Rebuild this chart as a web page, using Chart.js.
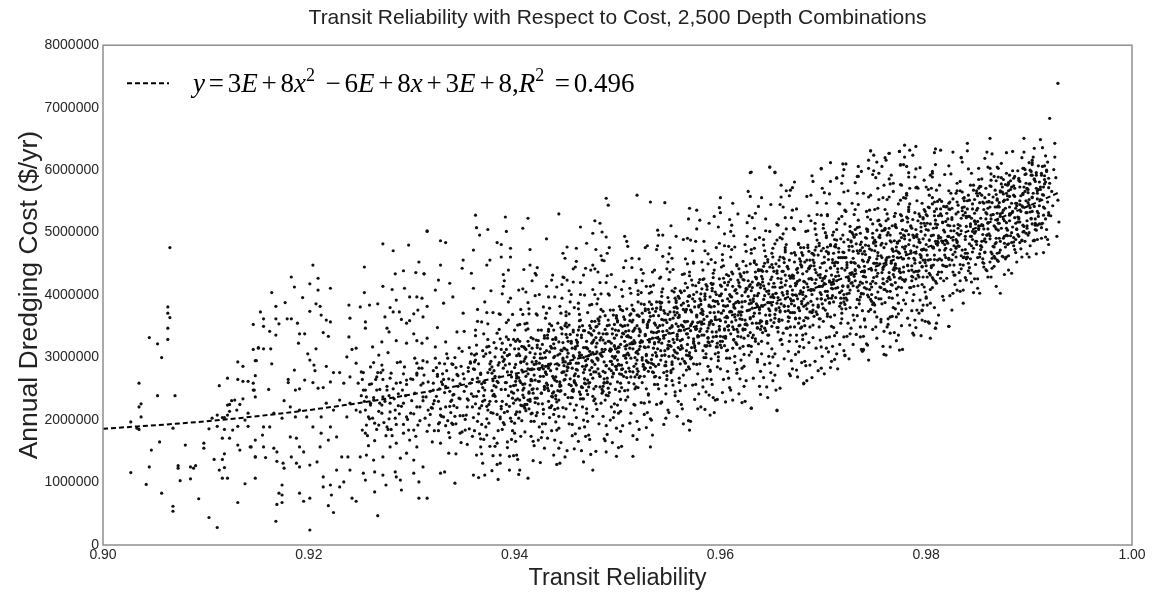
<!DOCTYPE html>
<html>
<head>
<meta charset="utf-8">
<script src="https://cdn.jsdelivr.net/npm/chart.js@4/dist/chart.umd.min.js"></script>
<style>
  html, body { margin: 0; padding: 0; background: #ffffff; }
  #wrap { width: 1154px; height: 598px; }
</style>
</head>
<body>
<div id="wrap"><canvas id="chart" width="1154" height="598"></canvas></div>
<script>
// Axis ticks
const reliabilityTicks = [0.90, 0.92, 0.94, 0.96, 0.98, 1.00];
const costTicks = [0, 1000000, 2000000, 3000000, 4000000, 5000000, 6000000, 7000000, 8000000];

// Quadratic fit, sampled along the fitted curve
const trendReliability = [0.900, 0.910, 0.920, 0.930, 0.940, 0.950, 0.960, 0.970, 0.980, 0.990, 0.993];
const trendCost = [1860000, 1980000, 2160000, 2410000, 2740000, 3150000, 3620000, 4160000, 4760000, 5430000, 5650000];

// Fit equation shown in the legend: [text, style]  (i = italic, o = operator, s = superscript, r = roman)
const fitLabel = [
  ['y','i'], ['=','o'], ['3','r'], ['E','i'], ['+','o'], ['8','r'], ['x','i'], ['2','s'],
  [' ','r'], ['\u2212','o'], ['6','r'], ['E','i'], ['+','o'], ['8','r'], ['x','i'], ['+','o'],
  ['3','r'], ['E','i'], ['+','o'], ['8','r'], [',','r'], ['R','i'], ['2','s'], [' ','r'],
  ['=','o'], ['0.496','r']
];

// Depth combinations. Each array holds pairs:
// (reliability - 0.90) in units of 0.0001, then annual cost in units of $10,000.
const westTail = [
  65,476, 63,381, 63,371, 65,364, 63,347, 63,329, 45,332, 53,322, 57,300, 35,259, 53,239, 70,239, 37,226, 35,221,
  37,205, 27,197, 33,187, 35,185, 68,187, 55,165, 47,152, 27,116, 45,125, 42,97, 57,83, 68,62, 68,54, 73,127,
  73,123, 75,103, 80,160, 85,125, 88,123, 90,127, 85,106, 93,74, 98,163, 98,155, 103,44, 111,28, 108,137, 116,137,
  113,120, 118,124, 116,107, 121,107, 118,146, 116,171, 123,171, 118,185, 111,190, 103,186, 106,203, 111,208,
  116,204, 118,204, 121,208, 123,214, 123,225, 121,224, 125,231, 128,232, 130,216, 133,225, 136,234, 131,190,
  126,184, 113,255, 121,267, 131,265, 136,262, 141,262, 131,293, 136,286, 146,353, 146,313, 151,316, 148,295,
  148,271, 146,248, 148,237, 141,211, 138,200, 141,190, 148,168, 143,157, 131,160, 133,152, 148,141, 148,107,
  138,98, 131,68
];

const westCloud = [
  315,502, 272,482, 282,471, 297,480, 307,453, 204,448, 254,445, 183,429, 209,427, 186,413, 201,418, 209,408,
  221,411, 284,434, 292,439, 304,436, 312,434, 254,404, 272,414, 281,409, 293,411, 285,392, 298,397, 305,397,
  310,395, 164,404, 194,396, 177,388, 168,382, 207,386, 211,382, 239,384, 250,381, 259,384, 267,386, 153,373,
  156,362, 168,362, 179,362, 183,362, 201,374, 212,368, 217,360, 221,357, 189,355, 156,350, 171,354, 162,342,
  168,336, 191,338, 196,338, 214,340, 219,334, 240,363, 255,357, 255,347, 274,365, 279,380, 282,373, 288,373,
  290,361, 295,355, 298,359, 302,370, 306,376, 311,365, 315,382, 276,347, 278,341, 285,327, 295,323, 302,338,
  305,327, 310,323, 315,331, 190,323, 151,315, 156,314, 163,314, 149,295, 164,290, 199,306, 207,314, 201,296,
  205,288, 206,279, 239,333, 242,313, 246,315, 237,301, 246,291, 262,317, 271,325, 268,304, 277,308, 289,293,
  305,291, 315,293, 217,286, 224,276, 230,276, 186,280, 180,265, 180,260, 187,248, 191,250, 146,259, 147,248,
  161,249, 196,264, 204,260, 209,251, 214,252, 221,261, 234,259, 240,269, 248,259, 251,277, 260,285, 266,269,
  272,280, 279,267, 285,259, 295,264, 305,275, 311,259, 253,248, 256,237, 260,227, 255,216, 263,232, 266,248,
  269,227, 272,237, 276,248, 279,227, 258,205, 264,195, 255,179, 271,211, 276,189, 284,216, 292,227, 295,205,
  305,221, 311,237, 316,216, 302,184, 292,179, 285,163, 279,157, 305,157, 240,227, 246,216, 237,205, 230,232,
  224,216, 217,227, 212,205, 221,189, 227,173, 219,168, 212,179, 204,189, 198,205, 191,216, 187,205, 182,221,
  176,231, 174,203, 166,211, 162,189, 156,189, 155,176, 144,157, 156,157, 166,155, 169,149, 148,141, 158,140,
  169,134, 175,131, 176,123, 182,173, 188,171, 191,157, 195,149, 188,131, 183,141, 191,125, 201,128, 208,133,
  211,157, 232,141, 238,141, 250,141, 256,144, 263,136, 272,141, 289,139, 295,147, 302,136, 311,125, 227,120,
  240,120, 253,115, 255,104, 264,117, 272,112, 284,117, 285,109, 289,104, 302,115, 307,101, 214,109, 221,96,
  214,93, 234,101, 230,93, 242,75, 246,70, 264,85, 275,96, 290,88, 307,75, 315,75, 174,96, 174,80, 171,83,
  169,65, 174,68, 191,83, 195,70, 201,75, 222,80, 219,63, 224,52, 168,38, 201,24, 267,47
];

// Where the band thickens, just ahead of the main core
const bandEntry = [
  254,230, 259,202, 252,265, 257,175, 250,213, 255,248, 258,159, 253,276, 256,192, 251,239, 259,257, 252,184,
  263,236, 268,214, 261,258, 266,185, 269,249, 264,167, 260,224, 267,276, 262,203, 265,265, 268,192, 263,292,
  271,224, 276,254, 273,196, 278,239, 270,276, 275,175, 279,213, 272,265, 277,185, 274,230, 271,288, 278,202,
  287,223, 282,250, 285,193, 280,275, 288,210, 283,234, 286,292, 281,175, 289,260, 284,203, 287,242, 280,185,
  294,239, 299,211, 292,274, 297,184, 290,222, 295,257, 298,168, 293,285, 296,201, 291,248, 299,266, 292,193,
  303,243, 308,221, 301,265, 306,192, 309,256, 304,174, 300,231, 307,283, 302,210, 305,272, 308,199, 303,299,
  311,231, 316,261, 313,203, 318,246, 310,283, 315,182, 319,220, 312,272, 317,192, 314,237, 311,295, 318,209
];

const upperFringe = [
  362,528, 391,525, 413,523, 443,530, 489,555, 491,544, 315,503, 328,487, 333,484, 374,505, 363,508, 366,496,
  392,502, 408,507, 431,490, 464,509, 478,519, 483,515, 485,501, 476,499, 383,484, 387,481, 396,475, 415,473,
  451,477, 460,475, 470,483, 489,493, 360,472, 350,456, 376,456, 387,461, 396,461, 349,443, 373,448, 358,435,
  394,440, 415,448, 421,432, 436,424, 447,429, 441,413, 457,421, 467,432, 476,448, 485,456, 312,434, 328,448,
  326,424, 337,419, 323,408, 340,397, 331,387,
  328,115, 342,99, 360,112, 371,112, 386,131, 405,120, 413,107, 449,141, 467,133, 476,120, 489,149,
  630,597, 648,605, 653,597, 519,560, 532,549, 546,548, 570,539, 600,556, 668,568, 499,142, 515,142, 532,157,
  570,184, 590,208, 630,219, 655,216, 612,232, 595,232,
  834,620, 746,631, 774,630, 764,627, 698,603, 713,588, 734,590, 775,609, 681,259, 721,304, 739,312, 822,350, 809,347
];

const eastFringe = [
  928,739, 920,683, 925,643, 913,636, 905,635, 895,629, 900,612, 915,607, 840,643, 862,651, 857,619, 834,620,
  822,607, 806,598, 774,630, 764,627, 746,631, 744,616, 752,613, 761,616, 775,608, 744,603, 733,590, 713,587,
  698,602, 648,605, 653,596, 629,596, 783,596, 790,572, 781,560, 768,579, 765,578, 759,576, 806,589, 800,573,
  830,579, 844,595, 852,574, 860,605, 869,605, 870,589, 878,595, 885,587, 894,603, 903,592, 907,592, 912,592,
  916,581, 914,573, 908,563, 903,557, 898,571, 894,563, 891,573, 886,571, 878,563, 872,565, 869,552, 859,549,
  862,541, 869,531, 875,536, 881,541, 888,547, 894,541, 901,533, 906,512, 898,507, 893,488, 885,485, 905,488,
  878,496, 870,504, 875,461, 880,440, 862,453, 863,429, 850,411, 852,461, 854,477, 839,424, 836,408, 826,403,
  822,350, 809,347, 810,355, 796,360, 796,376, 784,352, 777,313, 762,349, 751,349, 739,313, 721,303, 707,284,
  698,283, 681,258, 655,215, 646,236, 630,219, 658,251, 674,280, 687,288, 703,315, 720,333, 736,333, 752,365,
  765,365, 776,376, 791,376, 804,387, 817,392, 830,408, 843,435, 856,445, 869,467
];

const coreWest = [
  322,231, 325,270, 328,208, 321,248, 327,291, 320,219, 326,183, 329,261, 323,317, 324,238, 328,163, 321,279, 325,348, 327,196,
  333,221, 336,266, 339,195, 332,244, 335,299, 338,230, 331,205, 334,279, 337,172, 330,257, 333,325, 336,147, 339,290, 332,117,
  344,220, 347,258, 340,193, 343,284, 346,235, 349,310, 342,206, 345,271, 348,164, 341,241, 344,341, 347,179, 340,289, 343,146,
  351,266, 354,234, 357,293, 350,207, 353,254, 356,316, 359,221, 352,184, 355,278, 358,242, 351,342, 354,161, 357,259, 350,371,
  365,261, 368,223, 361,293, 364,198, 367,273, 360,238, 363,306, 366,178, 369,252, 362,335, 365,210, 368,146, 361,281, 364,358,
  370,261, 373,222, 376,290, 379,239, 372,306, 375,195, 378,275, 371,248, 374,329, 377,212, 370,169, 373,317, 376,230, 379,372,
  382,253, 385,292, 388,230, 381,270, 387,313, 380,241, 386,205, 389,283, 383,339, 384,260, 388,185, 381,301, 385,370, 387,218, 383,163, 389,414, 380,324, 386,144,
  394,239, 397,277, 390,212, 393,303, 396,254, 399,329, 392,225, 395,290, 398,183, 391,260, 394,360, 397,198, 390,308, 393,165, 396,395, 399,243, 392,333, 395,142,
  403,248, 406,293, 409,222, 402,271, 405,326, 408,257, 401,232, 404,306, 407,199, 400,284, 403,352, 406,174, 409,317, 402,144, 405,263, 408,369, 401,209, 404,408,
  415,281, 418,243, 411,313, 414,218, 417,293, 410,258, 413,326, 416,198, 419,272, 412,355, 415,230, 418,166, 411,301, 414,378, 417,211, 410,181, 413,346, 416,263,
  421,294, 424,262, 427,321, 420,235, 423,282, 426,344, 429,249, 422,212, 425,306, 428,270, 421,370, 424,189, 427,287, 420,399, 423,226, 426,172, 429,331, 422,444,
  430,286, 433,247, 436,315, 439,264, 432,331, 435,220, 438,300, 431,273, 434,354, 437,237, 430,194, 433,342, 436,255, 439,397, 432,171, 435,279, 438,209, 431,371,
  444,261, 447,299, 440,234, 443,325, 446,276, 449,351, 442,247, 445,312, 448,205, 441,282, 444,382, 447,220, 440,330, 443,187, 446,417, 449,265, 442,355, 445,164, 448,287, 441,129, 447,467, 444,254,
  452,284, 455,323, 458,261, 451,301, 457,344, 450,272, 456,236, 459,314, 453,370, 454,291, 458,216, 451,332, 455,401, 457,249, 453,194, 459,445, 450,355, 456,175, 452,307, 454,266, 458,380, 451,151,
  465,304, 468,266, 461,336, 464,241, 467,316, 460,281, 463,349, 466,221, 469,295, 462,378, 465,253, 468,189, 461,324, 464,401, 467,234, 460,204, 463,369, 466,286, 469,443, 462,166, 468,343, 460,256,
  473,280, 476,325, 479,254, 472,303, 475,358, 478,289, 471,264, 474,338, 477,231, 470,316, 473,384, 476,206, 479,349, 472,176, 475,295, 478,401, 471,241, 474,440, 477,328, 470,218, 479,150, 476,308,
  480,309, 483,270, 486,338, 489,287, 482,354, 485,243, 488,323, 481,296, 484,377, 487,260, 480,217, 483,365, 486,278, 489,420, 482,194, 485,302, 488,232, 481,394, 484,463, 487,170, 483,328, 486,254,
  491,326, 494,294, 497,353, 490,267, 493,314, 496,376, 499,281, 492,244, 495,338, 498,302, 491,402, 494,221, 497,319, 490,431, 493,258, 496,204, 499,363, 492,476, 495,289, 498,344, 490,177, 496,274
];

const coreMid = [
  504,288, 507,326, 500,261, 503,352, 506,303, 509,378, 502,274, 505,339, 508,232, 501,309, 504,409, 507,247, 500,357, 503,214, 506,444, 509,292, 502,382, 505,191, 508,314, 501,156, 507,494, 504,281,
  513,299, 516,344, 519,273, 512,322, 515,377, 518,308, 511,283, 514,357, 517,250, 510,335, 513,403, 516,225, 519,368, 512,195, 515,314, 518,420, 511,260, 514,459, 517,347, 510,237, 519,169, 516,327,
  522,318, 525,357, 528,295, 521,335, 527,378, 520,306, 526,270, 529,348, 523,404, 524,325, 528,250, 521,366, 525,435, 527,283, 523,228, 529,479, 520,389, 526,209, 522,341, 524,300, 528,414, 521,185,
  535,340, 538,302, 531,372, 534,277, 537,352, 530,317, 533,385, 536,257, 539,331, 532,414, 535,289, 538,225, 531,360, 534,437, 537,270, 530,240, 533,405, 536,322, 539,479, 532,202, 538,379, 530,292,
  540,342, 543,303, 546,371, 549,320, 542,387, 545,276, 548,356, 541,329, 544,410, 547,293, 540,250, 543,398, 546,311, 549,453, 542,227, 545,335, 548,265, 541,427, 544,496, 547,203, 543,361, 546,287,
  551,361, 554,329, 557,388, 550,302, 553,349, 556,411, 559,316, 552,279, 555,373, 558,337, 551,437, 554,256, 557,354, 550,466, 553,293, 556,239, 559,398, 552,511, 555,324, 558,379, 550,212, 556,309,
  563,329, 566,374, 569,303, 562,352, 565,407, 568,338, 561,313, 564,387, 567,280, 560,365, 563,433, 566,255, 569,398, 562,225, 565,344, 568,450, 561,290, 564,489, 567,377, 560,267, 569,199, 566,357,
  574,330, 577,368, 570,303, 573,394, 576,345, 579,420, 572,316, 575,381, 578,274, 571,351, 574,451, 577,289, 570,399, 573,256, 576,486, 579,334, 572,424, 575,233, 578,356, 571,198, 577,536, 574,323,
  582,354, 585,393, 588,331, 581,371, 587,414, 580,342, 586,306, 589,384, 583,440, 584,361, 588,286, 581,402, 585,471, 587,319, 583,264, 589,515, 580,425, 586,245, 582,377, 584,336, 588,450, 581,221,
  590,372, 593,333, 596,401, 599,350, 592,417, 595,306, 598,386, 591,359, 594,440, 597,323, 590,280, 593,428, 596,341, 599,483, 592,257, 595,365, 598,295, 591,457, 594,526, 597,233, 593,391, 596,317,
  605,382, 608,344, 601,414, 604,319, 607,394, 600,359, 603,427, 606,299, 609,373, 602,456, 605,331, 608,267, 601,402, 604,479, 607,312, 600,282, 603,447, 606,364, 609,521, 602,244, 608,421, 600,334,
  611,397, 614,365, 617,424, 610,338, 613,385, 616,447, 619,352, 612,315, 615,409, 618,373, 611,473, 614,292, 617,390, 610,502, 613,329, 616,275, 619,434, 612,547, 615,360, 618,415, 610,248, 616,345,
  624,360, 627,398, 620,333, 623,424, 626,375, 629,450, 622,346, 625,411, 628,304, 621,381, 624,481, 627,319, 620,429, 623,286, 626,516, 629,364, 622,454, 625,263, 628,386, 621,228, 627,566, 624,353,
  633,371, 636,416, 639,345, 632,394, 635,449, 638,380, 631,355, 634,429, 637,322, 630,407, 633,475, 636,297, 639,440, 632,267, 635,386, 638,492, 631,332, 634,531, 637,419, 630,309, 639,241, 636,399,
  645,406, 648,368, 641,438, 644,343, 647,418, 640,383, 643,451, 646,323, 649,397, 642,480, 645,355, 648,291, 641,426, 644,503, 647,336, 640,306, 643,471, 646,388, 649,545, 642,268, 648,445, 640,358,
  652,396, 655,435, 658,373, 651,413, 657,456, 650,384, 656,348, 659,426, 653,482, 654,403, 658,328, 651,444, 655,513, 657,361, 653,306, 659,557, 650,467, 656,287, 652,419, 654,378, 658,492, 651,263,
  660,413, 663,374, 666,442, 669,391, 662,458, 665,347, 668,427, 661,400, 664,481, 667,364, 660,321, 663,469, 666,382, 669,524, 662,298, 665,406, 668,336, 661,498, 664,567, 667,274, 663,432, 666,358,
  671,431, 674,399, 677,458, 670,372, 673,419, 676,481, 679,386, 672,349, 675,443, 678,407, 671,507, 674,326, 677,424, 670,536, 673,363, 676,309, 679,468, 672,581, 675,394, 678,449, 670,282, 676,379,
  683,398, 686,443, 689,372, 682,421, 685,476, 688,407, 681,382, 684,456, 687,349, 680,434, 683,502, 686,324, 689,467, 682,294, 685,413, 688,519, 681,359, 684,558, 687,446, 680,336, 689,268, 686,426,
  695,432, 698,394, 691,464, 694,369, 697,444, 690,409, 693,477, 696,349, 699,423, 692,506, 695,381, 698,317, 691,452, 694,529, 697,362, 690,332, 693,497, 696,414, 699,571, 692,294, 698,471, 690,384
];

const coreEast = [
  704,406, 707,444, 700,379, 703,470, 706,421, 709,496, 702,392, 705,457, 708,350, 701,427, 704,527, 707,365, 700,475, 703,332, 706,562, 709,410, 702,500, 705,309, 708,432, 701,274, 707,612, 704,399,
  712,430, 715,469, 718,407, 711,447, 717,490, 710,418, 716,382, 719,460, 713,516, 714,437, 718,362, 711,478, 715,547, 717,395, 713,340, 719,591, 710,501, 716,321, 712,453, 714,412, 718,526, 711,297,
  721,460, 724,428, 727,487, 720,401, 723,448, 726,510, 729,415, 722,378, 725,472, 728,436, 721,536, 724,355, 727,453, 720,565, 723,392, 726,338, 729,497, 722,610, 725,423, 728,478, 720,311, 726,408,
  730,452, 733,413, 736,481, 739,430, 732,497, 735,386, 738,466, 731,439, 734,520, 737,403, 730,360, 733,508, 736,421, 739,563, 732,337, 735,445, 738,375, 731,537, 734,606, 737,313, 733,471, 736,397,
  745,460, 748,422, 741,492, 744,397, 747,472, 740,437, 743,505, 746,377, 749,451, 742,534, 745,409, 748,345, 741,480, 744,557, 747,390, 740,360, 743,525, 746,442, 749,599, 742,322, 748,499, 740,412,
  753,435, 756,480, 759,409, 752,458, 755,513, 758,444, 751,419, 754,493, 757,386, 750,471, 753,539, 756,361, 759,504, 752,331, 755,450, 758,556, 751,396, 754,595, 757,483, 750,373, 759,305, 756,463,
  764,436, 767,474, 760,409, 763,500, 766,451, 769,526, 762,422, 765,487, 768,380, 761,457, 764,557, 767,395, 760,505, 763,362, 766,592, 769,440, 762,530, 765,339, 768,462, 761,304, 764,429,
  772,460, 775,499, 778,437, 771,477, 777,520, 770,448, 776,412, 779,490, 773,546, 774,467, 778,392, 771,508, 775,577, 777,425, 773,370, 779,621, 770,531, 776,351, 772,483, 774,442, 778,556, 771,327,
  780,478, 783,439, 786,507, 789,456, 782,523, 785,412, 788,492, 781,465, 784,546, 787,429, 780,386, 783,534, 786,447, 789,589, 782,363, 785,471, 788,401, 781,563, 784,632, 787,339, 783,497, 786,423,
  791,497, 794,465, 797,524, 790,438, 793,485, 796,547, 799,452, 792,415, 795,509, 798,473, 791,573, 794,392, 797,490, 790,602, 793,429, 796,375, 799,534, 795,460, 798,515, 790,348, 796,445,
  805,495, 808,457, 801,527, 804,432, 807,507, 800,472, 803,540, 806,412, 809,486, 802,569, 805,444, 808,380, 801,515, 804,592, 807,425, 800,395, 803,560, 806,477, 809,634, 802,357, 808,534, 800,447,
  813,472, 816,517, 819,446, 812,495, 815,550, 818,481, 811,456, 814,530, 817,423, 810,508, 813,576, 816,398, 819,541, 812,368, 815,487, 818,593, 811,433, 814,632,
  824,473, 827,511, 820,446, 823,537, 826,488, 829,563, 822,459, 825,524, 828,417, 821,494, 824,594, 827,432, 820,542, 823,399, 826,629, 829,477, 822,567, 825,376,
  832,496, 835,535, 838,473, 831,513, 837,556, 830,484, 836,448, 839,526, 833,582, 834,503, 838,428, 831,544, 835,613, 837,461, 833,406, 830,567, 836,387,
  841,526, 844,494, 847,553, 840,467, 843,514, 846,576, 849,481, 842,444, 845,538, 848,502, 841,602, 844,421, 847,519, 840,631, 843,458, 846,404, 849,563, 845,489,
  850,518, 853,479, 856,547, 859,496, 852,563, 855,452, 858,532, 851,505, 854,586, 857,469, 850,426, 853,574, 856,487, 859,629, 852,403, 855,511, 858,441, 851,603,
  865,529, 868,491, 861,561, 864,466, 867,541, 860,506, 863,574, 866,446, 869,520, 862,603, 865,478, 868,414, 861,549, 864,626, 867,459, 860,429, 863,594, 866,511,
  873,507, 876,552, 879,481, 872,530, 875,585, 878,516, 871,491, 874,565, 877,458, 870,543, 873,611, 876,433, 879,576, 872,403, 875,522, 878,628, 871,468,
  884,509, 887,547, 880,482, 883,573, 886,524, 889,599, 882,495, 885,560, 888,453, 881,530, 884,630, 887,468, 880,578, 883,435,
  892,534, 895,573, 898,511, 891,551, 897,594, 890,522, 896,486, 899,564, 893,620, 894,541, 898,466, 891,582, 895,651, 897,499,
  900,553, 903,514, 906,582, 909,531, 902,598, 905,487, 908,567, 901,540, 904,621, 907,504, 900,461, 903,609, 906,522,
  911,573, 914,541, 917,600, 910,514, 913,561, 916,623, 919,528, 912,491, 915,585, 918,549, 911,649, 914,468,
  923,543, 926,588, 929,517, 922,566, 925,621, 928,552, 921,527, 924,601, 927,494, 920,579
];

// Second, tighter layer through the densest part of the band
const coreFill = [
  326,230, 321,259, 329,206, 324,284, 322,183, 327,250, 320,165, 325,273, 328,218, 323,299, 326,194, 321,226,
  333,254, 337,222, 330,274, 335,199, 339,232, 332,290, 336,180, 331,265, 338,212, 334,306, 333,191, 337,246,
  340,240, 344,273, 347,207, 342,300, 349,181, 345,254, 341,223, 348,286, 343,194, 346,315, 340,264, 347,234,
  355,232, 359,265, 353,208, 357,291, 351,246, 356,186, 350,274, 354,221, 358,306, 352,201, 355,284, 359,174,
  368,258, 362,226, 365,290, 360,204, 367,275, 363,238, 369,311, 361,183, 366,219, 364,267, 368,193, 362,296, 365,246, 360,282, 367,170, 363,320, 369,230, 361,304,
  371,260, 375,225, 378,285, 373,202, 376,308, 370,239, 374,276, 379,211, 372,189, 377,294, 371,232, 375,318, 378,247, 373,176, 376,281, 370,302, 374,216, 379,263,
  380,255, 384,288, 387,222, 382,315, 389,196, 385,269, 381,238, 388,301, 383,209, 386,330, 380,279, 387,249, 384,183, 389,294, 382,230, 386,202, 383,262, 388,323,
  393,277, 397,245, 390,297, 395,222, 399,255, 392,313, 396,203, 391,288, 398,235, 394,329, 393,214, 397,269, 390,193, 395,305, 399,227, 392,260, 396,320, 391,249,
  406,260, 401,289, 409,236, 404,314, 402,213, 407,280, 400,195, 405,303, 408,248, 403,329, 406,224, 401,256, 409,294, 404,203, 407,318, 402,267, 405,232, 400,344,
  415,256, 419,289, 413,232, 417,315, 411,270, 416,210, 410,298, 414,245, 418,330, 412,225, 415,308, 419,198, 413,282, 417,249, 411,344, 416,265, 410,219, 414,319,
  428,282, 422,250, 425,314, 420,228, 427,299, 423,262, 429,335, 421,207, 426,243, 424,291, 428,217, 422,320, 425,270, 420,306, 427,194, 423,344, 429,254, 421,328,
  430,276, 434,309, 437,243, 432,336, 439,217, 435,290, 431,259, 438,322, 433,230, 436,351, 430,300, 437,270, 434,204, 439,315, 432,251, 436,223, 433,283, 438,344,
  441,290, 445,255, 448,315, 443,232, 446,338, 440,269, 444,306, 449,241, 442,219, 447,324, 441,262, 445,348, 448,277, 443,206, 446,311, 440,332, 444,246, 449,293,
  456,283, 451,312, 459,259, 454,337, 452,236, 457,303, 450,218, 455,326, 458,271, 453,352, 456,247, 451,279, 459,317, 454,226, 457,341, 452,290, 455,255, 450,367,
  463,308, 467,276, 460,328, 465,253, 469,286, 462,344, 466,234, 461,319, 468,266, 464,360, 463,245, 467,300, 460,224, 465,336, 469,258, 462,291, 466,351, 461,280,
  475,284, 479,317, 473,260, 477,343, 471,298, 476,238, 470,326, 474,273, 478,358, 472,253, 475,336, 479,226, 473,310, 477,277, 471,372, 476,293, 470,247, 474,347,
  480,299, 484,332, 487,266, 482,359, 489,240, 485,313, 481,282, 488,345, 483,253, 486,374, 480,323, 487,293, 484,227, 489,338, 482,274, 486,246, 483,306, 488,367,
  498,314, 492,282, 495,346, 490,260, 497,331, 493,294, 499,367, 491,239, 496,275, 494,323, 498,249, 492,352, 495,302, 490,338, 497,226, 493,376, 499,286, 491,360,
  501,317, 505,282, 508,342, 503,259, 506,365, 500,296, 504,333, 509,268, 502,246, 507,351, 501,289, 505,375, 508,304, 503,233, 506,338, 500,359, 504,273, 509,320,
  513,332, 517,300, 510,352, 515,277, 519,310, 512,368, 516,258, 511,343, 518,290, 514,384, 513,269, 517,324, 510,248, 515,360, 519,282, 512,315, 516,375, 511,304,
  526,317, 521,346, 529,293, 524,371, 522,270, 527,337, 520,252, 525,360, 528,305, 523,386, 526,281, 521,313, 529,351, 524,260, 527,375, 522,324, 525,289, 520,401,
  535,315, 539,348, 533,291, 537,374, 531,329, 536,269, 530,357, 534,304, 538,389, 532,284, 535,367, 539,257, 533,341, 537,308, 531,403, 536,324, 530,278, 534,378,
  548,343, 542,311, 545,375, 540,289, 547,360, 543,323, 549,396, 541,268, 546,304, 544,352, 548,278, 542,381, 545,331, 540,367, 547,255, 543,405, 549,315, 541,389,
  551,347, 555,312, 558,372, 553,289, 556,395, 550,326, 554,363, 559,298, 552,276, 557,381, 551,319, 555,405, 558,334, 553,263, 556,368, 550,389, 554,303, 559,350,
  560,344, 564,377, 567,311, 562,404, 569,285, 565,358, 561,327, 568,390, 563,298, 566,419, 560,368, 567,338, 564,272, 569,383, 562,319, 566,291, 563,351, 568,412,
  576,347, 571,376, 579,323, 574,401, 572,300, 577,367, 570,282, 575,390, 578,335, 573,416, 576,311, 571,343, 579,381, 574,290, 577,405, 572,354, 575,319, 570,431,
  583,374, 587,342, 580,394, 585,319, 589,352, 582,410, 586,300, 581,385, 588,332, 584,426, 583,311, 587,366, 580,290, 585,402, 589,324, 582,357, 586,417, 581,346,
  598,373, 592,341, 595,405, 590,319, 597,390, 593,353, 599,426, 591,298, 596,334, 594,382, 598,308, 592,411, 595,361, 590,397, 597,285, 593,435, 599,345, 591,419,
  605,357, 609,390, 603,333, 607,416, 601,371, 606,311, 600,399, 604,346, 608,431, 602,326, 605,409, 609,299, 603,383, 607,350, 601,445, 606,366, 600,320, 604,420,
  610,374, 614,407, 617,341, 612,434, 619,315, 615,388, 611,357, 618,420, 613,328, 616,449, 610,398, 617,368, 614,302, 619,413, 612,349, 616,321, 613,381, 618,442,
  621,389, 625,354, 628,414, 623,331, 626,437, 620,368, 624,405, 629,340, 622,318, 627,423, 621,361, 625,447, 628,376, 623,305, 626,410, 620,431, 624,345, 629,392,
  636,383, 631,412, 639,359, 634,437, 632,336, 637,403, 630,318, 635,426, 638,371, 633,452, 636,347, 631,379, 639,417, 634,326, 637,441, 632,390, 635,355, 630,467,
  643,410, 647,378, 640,430, 645,355, 649,388, 642,446, 646,336, 641,421, 648,368, 644,462, 643,347, 647,402, 640,326, 645,438, 649,360, 642,393, 646,453, 641,382,
  655,387, 659,420, 653,363, 657,446, 651,401, 656,341, 650,429, 654,376, 658,461, 652,356, 655,439, 659,329, 653,413, 657,380, 651,475, 656,396, 650,350, 654,450,
  668,414, 662,382, 665,446, 660,360, 667,431, 663,394, 669,467, 661,339, 666,375, 664,423, 668,349, 662,452, 665,402, 660,438, 667,326, 663,476, 669,386, 661,460,
  670,408, 674,441, 677,375, 672,468, 679,349, 675,422, 671,391, 678,454, 673,362, 676,483, 670,432, 677,402, 674,336, 679,447, 672,383, 676,355, 673,415, 678,476,
  681,422, 685,387, 688,447, 683,364, 686,470, 680,401, 684,438, 689,373, 682,351, 687,456, 681,394, 685,480, 688,409, 683,338, 686,443, 680,464, 684,378, 689,425,
  693,436, 697,404, 690,456, 695,381, 699,414, 692,472, 696,362, 691,447, 698,394, 694,488, 693,373, 697,428, 690,352, 695,464, 699,386, 692,419, 696,479, 691,408,
  706,423, 701,452, 709,399, 704,477, 702,376, 707,443, 700,358, 705,466, 708,411, 703,492, 706,387, 701,419, 709,457, 704,366, 707,481, 702,430, 705,395, 700,507,
  718,443, 712,411, 715,475, 710,389, 717,460, 713,423, 719,496, 711,368, 716,404, 714,452, 718,378, 712,481, 715,431, 710,467, 717,355, 713,505, 719,415, 711,489,
  725,426, 729,459, 723,402, 727,485, 721,440, 726,380, 720,468, 724,415, 728,500, 722,395, 725,478, 729,368, 723,452, 727,419, 721,514, 726,435, 720,389, 724,489,
  731,451, 735,416, 738,476, 733,393, 736,499, 730,430, 734,467, 739,402, 732,380, 737,485, 731,423, 735,509, 738,438, 733,367, 736,472, 730,493, 734,407, 739,454,
  740,446, 744,479, 747,413, 742,506, 749,387, 745,460, 741,429, 748,492, 743,400, 746,521, 740,470, 747,440, 744,374, 749,485, 742,421, 746,393, 743,453, 748,514,
  753,468, 757,436, 750,488, 755,413, 759,446, 752,504, 756,394, 751,479, 758,426, 754,520, 753,405, 757,460, 750,384, 755,496, 759,418, 752,451, 756,511, 751,440,
  766,453, 761,482, 769,429, 764,507, 762,406, 767,473, 760,388, 765,496, 768,441, 763,522, 766,417, 761,449, 769,487, 764,396, 767,511, 762,460, 765,425, 760,537,
  771,471, 775,436, 778,496, 773,413, 776,519, 770,450, 774,487, 779,422, 772,400, 777,505, 771,443, 775,529, 778,458, 773,387, 776,492, 770,513, 774,427, 779,474,
  788,479, 782,447, 785,511, 780,425, 787,496, 783,459, 789,532, 781,404, 786,440, 784,488, 788,414, 782,517, 785,467, 780,503, 787,391, 783,541, 789,451, 781,525,
  795,463, 799,496, 793,439, 797,522, 791,477, 796,417, 790,505, 794,452, 798,537, 792,432, 795,515, 799,405, 793,489, 797,456, 791,551, 796,472, 790,426, 794,526,
  800,481, 804,514, 807,448, 802,541, 809,422, 805,495, 801,464, 808,527, 803,435, 806,556, 800,505, 807,475, 804,409, 809,520, 802,456, 806,428, 803,488, 808,549,
  816,484, 811,513, 819,460, 814,538, 812,437, 817,504, 810,419, 815,527, 818,472, 813,553, 816,448, 811,480, 819,518, 814,427, 817,542, 812,491, 815,456, 810,568,
  823,511, 827,479, 820,531, 825,456, 829,489, 822,547, 826,437, 821,522, 828,469, 824,563, 823,448, 827,503, 820,427, 825,539, 829,461, 822,494, 826,554, 821,483,
  831,507, 835,472, 838,532, 833,449, 836,555, 830,486, 834,523, 839,458, 832,436, 837,541, 831,479, 835,565, 838,494, 833,423, 836,528, 830,549, 834,463, 839,510,
  848,514, 842,482, 845,546, 840,460, 847,531, 843,494, 849,567, 841,439, 846,475, 844,523, 848,449, 842,552, 845,502, 840,538, 847,426, 843,576, 849,486, 841,560,
  855,497, 859,530, 853,473, 857,556, 851,511, 856,451, 850,539, 854,486, 858,571, 852,466, 855,549, 859,439, 853,523, 857,490, 851,585, 856,506, 850,460, 854,560,
  860,515, 864,548, 867,482, 862,575, 869,456, 865,529, 861,498, 868,561, 863,469, 866,590, 860,539, 867,509, 864,443, 869,554, 862,490, 866,462, 863,522, 868,583,
  876,519, 871,548, 879,495, 874,573, 872,472, 877,539, 870,454, 875,562, 878,507, 873,588, 876,483, 871,515, 879,553, 874,462, 877,577, 872,526, 875,491, 870,603,
  883,547, 887,515, 880,567, 885,492, 889,525, 882,583, 886,473, 881,558, 888,505, 884,599, 883,484, 887,539, 880,463, 885,575, 889,497, 882,530, 886,590, 881,519,
  891,545, 895,510, 898,570, 893,487, 896,593, 890,524, 894,561, 899,496, 892,474, 897,579, 891,517, 895,603, 898,532, 893,461, 896,566, 890,587, 894,501, 899,548,
  908,554, 902,522, 905,586, 900,500, 907,571, 903,534, 909,607, 901,479, 906,515, 904,563, 908,489, 902,592, 905,542, 900,578, 907,466, 903,616, 909,526, 901,600,
  915,539, 919,572, 913,515, 917,598, 911,553, 916,493, 910,581, 914,528, 918,613, 912,508, 915,591, 919,481
];

// Third layer, close to the middle of the band
const coreDense = [
  401,262, 406,292, 403,234, 408,277, 400,314, 405,213, 409,251, 402,303, 407,223, 404,268, 401,326, 408,240,
  417,263, 412,290, 415,233, 410,315, 418,250, 413,274, 416,332, 411,215, 419,300, 414,243, 417,282, 410,225,
  424,281, 429,253, 422,316, 427,226, 420,264, 425,299, 428,210, 423,327, 426,243, 421,290, 429,308, 422,235,
  433,289, 438,267, 431,311, 436,238, 439,302, 434,220, 430,277, 437,329, 432,256, 435,318, 438,245, 433,345,
  447,277, 442,304, 445,247, 440,329, 448,264, 443,288, 446,346, 441,229, 449,314, 444,257, 447,296, 440,239,
  451,285, 456,315, 453,257, 458,300, 450,337, 455,236, 459,274, 452,326, 457,246, 454,291, 451,349, 458,263,
  463,303, 468,281, 461,325, 466,252, 469,316, 464,234, 460,291, 467,343, 462,270, 465,332, 468,259, 463,359,
  474,305, 479,277, 472,340, 477,250, 470,288, 475,323, 478,234, 473,351, 476,267, 471,314, 479,332, 472,259,
  481,298, 486,328, 483,270, 488,313, 480,350, 485,249, 489,287, 482,339, 487,259, 484,304, 481,362, 488,276,
  497,299, 492,326, 495,269, 490,351, 498,286, 493,310, 496,368, 491,251, 499,336, 494,279, 497,318, 490,261,
  503,321, 508,299, 501,343, 506,270, 509,334, 504,252, 500,309, 507,361, 502,288, 505,350, 508,277, 503,377,
  514,324, 519,296, 512,359, 517,269, 510,307, 515,342, 518,253, 513,370, 516,286, 511,333, 519,351, 512,278,
  527,316, 522,343, 525,286, 520,368, 528,303, 523,327, 526,385, 521,268, 529,353, 524,296, 527,335, 520,278,
  531,325, 536,355, 533,297, 538,340, 530,377, 535,276, 539,314, 532,366, 537,286, 534,331, 531,389, 538,303,
  544,342, 549,314, 542,377, 547,287, 540,325, 545,360, 548,271, 543,388, 546,304, 541,351, 549,369, 542,296,
  553,351, 558,329, 551,373, 556,300, 559,364, 554,282, 550,339, 557,391, 552,318, 555,380, 558,307, 553,407,
  561,343, 566,373, 563,315, 568,358, 560,395, 565,294, 569,332, 562,384, 567,304, 564,349, 561,407, 568,321,
  577,346, 572,373, 575,316, 570,398, 578,333, 573,357, 576,415, 571,298, 579,383, 574,326, 577,365, 570,308,
  583,369, 588,347, 581,391, 586,318, 589,382, 584,300, 580,357, 587,409, 582,336, 585,398, 588,325, 583,425,
  594,372, 599,344, 592,407, 597,317, 590,355, 595,390, 598,301, 593,418, 596,334, 591,381, 599,399, 592,326,
  607,364, 602,391, 605,334, 600,416, 608,351, 603,375, 606,433, 601,316, 609,401, 604,344, 607,383, 600,326,
  611,373, 616,403, 613,345, 618,388, 610,425, 615,324, 619,362, 612,414, 617,334, 614,379, 611,437, 618,351,
  624,390, 629,362, 622,425, 627,335, 620,373, 625,408, 628,319, 623,436, 626,352, 621,399, 629,417, 622,344,
  633,399, 638,377, 631,421, 636,348, 639,412, 634,330, 630,387, 637,439, 632,366, 635,428, 638,355, 633,455,
  647,388, 642,415, 645,358, 640,440, 648,375, 643,399, 646,457, 641,340, 649,425, 644,368, 647,407, 640,350,
  651,397, 656,427, 653,369, 658,412, 650,449, 655,348, 659,386, 652,438, 657,358, 654,403, 651,461, 658,375,
  663,416, 668,394, 661,438, 666,365, 669,429, 664,347, 660,404, 667,456, 662,383, 665,445, 668,372, 663,472,
  674,418, 679,390, 672,453, 677,363, 670,401, 675,436, 678,347, 673,464, 676,380, 671,427, 679,445, 672,372,
  681,412, 686,442, 683,384, 688,427, 680,464, 685,363, 689,401, 682,453, 687,373, 684,418, 681,476, 688,390,
  697,414, 692,441, 695,384, 690,466, 698,401, 693,425, 696,483, 691,366, 699,451, 694,394, 697,433, 690,376,
  703,439, 708,417, 701,461, 706,388, 709,452, 704,370, 700,427, 707,479, 702,406, 705,468, 708,395, 703,495,
  714,442, 719,414, 712,477, 717,387, 710,425, 715,460, 718,371, 713,488, 716,404, 711,451, 719,469, 712,396,
  727,433, 722,460, 725,403, 720,485, 728,420, 723,444, 726,502, 721,385, 729,470, 724,413, 727,452, 720,395,
  731,441, 736,471, 733,413, 738,456, 730,493, 735,392, 739,430, 732,482, 737,402, 734,447, 731,505, 738,419,
  744,456, 749,428, 742,491, 747,401, 740,439, 745,474, 748,385, 743,502, 746,418, 741,465, 749,483, 742,410,
  753,463, 758,441, 751,485, 756,412, 759,476, 754,394, 750,451, 757,503, 752,430, 755,492, 758,419, 753,519,
  761,455, 766,485, 763,427, 768,470, 760,507, 765,406, 769,444, 762,496, 767,416, 764,461, 761,519, 768,433,
  777,458, 772,485, 775,428, 770,510, 778,445, 773,469, 776,527, 771,410, 779,495, 774,438, 777,477, 770,420,
  783,481, 788,459, 781,503, 786,430, 789,494, 784,412, 780,469, 787,521, 782,448, 785,510, 788,437, 783,537,
  794,484, 799,456, 792,519, 797,429, 790,467, 795,502, 798,413, 793,530, 796,446, 791,493, 799,511, 792,438,
  807,477, 802,504, 805,447, 800,529, 808,464, 803,488, 806,546, 801,429, 809,514, 804,457, 807,496, 800,439,
  811,486, 816,516, 813,458, 818,501, 810,538, 815,437, 819,475, 812,527, 817,447, 814,492, 811,550, 818,464,
  824,503, 829,475, 822,538, 827,448, 820,486, 825,521, 828,432, 823,549, 826,465, 821,512, 829,530, 822,457,
  833,511, 838,489, 831,533, 836,460, 839,524, 834,442, 830,499, 837,551, 832,478, 835,540, 838,467, 833,567,
  847,499, 842,526, 845,469, 840,551, 848,486, 843,510, 846,568, 841,451, 849,536, 844,479, 847,518, 840,461,
  851,507, 856,537, 853,479, 858,522, 850,559, 855,458, 859,496, 852,548, 857,468, 854,513, 851,571, 858,485,
  863,528, 868,506, 861,550, 866,477, 869,541, 864,459, 860,516, 867,568, 862,495, 865,557, 868,484, 863,584,
  874,532, 879,504, 872,567, 877,477, 870,515, 875,550, 878,461, 873,578, 876,494, 871,541, 879,559, 872,486,
  881,528, 886,558, 883,500, 888,543, 880,580, 885,479, 889,517, 882,569, 887,489, 884,534, 881,592, 888,506,
  897,532, 892,559, 895,502, 890,584, 898,519, 893,543, 896,601, 891,484, 899,569, 894,512, 897,551, 890,494,
  903,556, 908,534, 901,578, 906,505, 909,569, 904,487, 900,544, 907,596, 902,523, 905,585, 908,512, 903,612,
  914,560, 919,532, 912,595, 917,505, 910,543, 915,578, 918,489, 913,606, 916,522, 911,569, 919,587, 912,514
];

// Upper and lower shoulders of the band, between the core and the fringe
const bandShoulders = [
  362,344, 367,157, 364,377, 369,131, 360,411, 365,108, 368,357, 363,144,
  374,354, 379,143, 371,389, 376,158, 373,372, 378,119, 370,338, 377,407,
  386,369, 381,158, 388,402, 383,129, 385,345, 380,171, 389,433, 384,105,
  392,356, 397,169, 394,389, 399,143, 390,423, 395,120, 398,369, 393,156,
  406,377, 401,166, 408,410, 403,137, 405,353, 400,179, 409,441, 404,113,
  414,370, 419,159, 411,405, 416,174, 413,388, 418,135, 410,354, 417,423,
  422,368, 427,181, 424,401, 429,155, 420,435, 425,132, 428,381, 423,168,
  434,379, 439,168, 431,414, 436,183, 433,397, 438,144, 430,363, 437,432,
  446,395, 441,184, 448,428, 443,155, 445,371, 440,197, 449,459, 444,131,
  454,389, 459,178, 451,424, 456,193, 453,407, 458,154, 450,373, 457,442,
  462,387, 467,200, 464,420, 469,174, 460,454, 465,151, 468,400, 463,187,
  476,409, 471,198, 478,442, 473,169, 475,385, 470,211, 479,473, 474,145,
  484,402, 489,191, 481,437, 486,206, 483,420, 488,167, 480,386, 487,455,
  492,400, 497,213, 494,433, 499,187, 490,467, 495,164, 498,413, 493,200,
  506,422, 501,211, 508,455, 503,182, 505,398, 500,224, 509,486, 504,158,
  512,411, 517,224, 514,444, 519,198, 510,478, 515,175, 518,424, 513,211,
  524,423, 529,212, 521,458, 526,227, 523,441, 528,188, 520,407, 527,476,
  536,440, 531,229, 538,473, 533,200, 535,416, 530,242, 539,504, 534,176,
  542,429, 547,242, 544,462, 549,216, 540,496, 545,193, 548,442, 543,229,
  554,441, 559,230, 551,476, 556,245, 553,459, 558,206, 550,425, 557,494,
  566,458, 561,247, 568,491, 563,218, 565,434, 560,260, 569,522, 564,194,
  574,453, 579,242, 571,488, 576,257, 573,471, 578,218, 570,437, 577,506,
  582,453, 587,266, 584,486, 589,240, 580,520, 585,217, 588,466, 583,253,
  596,476, 591,265, 598,509, 593,236, 595,452, 590,278, 599,540, 594,212,
  602,465, 607,278, 604,498, 609,252, 600,532, 605,229, 608,478, 603,265,
  614,477, 619,266, 611,512, 616,281, 613,495, 618,242, 610,461, 617,530,
  626,494, 621,283, 628,527, 623,254, 625,470, 620,296, 629,558, 624,230,
  634,489, 639,278, 631,524, 636,293, 633,507, 638,254, 630,473, 637,542,
  642,489, 647,302, 644,522, 649,276, 640,556, 645,253, 648,502, 643,289,
  656,512, 651,301, 658,545, 653,272, 655,488, 650,314, 659,576, 654,248,
  664,506, 669,295, 661,541, 666,310, 663,524, 668,271, 660,490, 667,559,
  672,505, 677,318, 674,538, 679,292, 670,572, 675,269, 678,518, 673,305,
  686,527, 681,316, 688,560, 683,287, 685,503, 680,329, 689,591, 684,263,
  692,515, 697,328, 694,548, 699,302, 690,582, 695,279, 698,528, 693,315,
  704,529, 709,318, 701,564, 706,333, 703,547, 708,294, 700,513, 707,582,
  716,546, 711,335, 718,579, 713,306, 715,522, 710,348, 719,610, 714,282,
  722,534, 727,347, 724,567, 729,321, 720,601, 725,298, 728,547, 723,334,
  734,545, 739,334, 731,580, 736,349, 733,563, 738,310, 730,529, 737,598,
  746,560, 741,349, 748,593, 743,320, 745,536, 740,362, 749,624, 744,296,
  754,553, 759,342, 751,588, 756,357, 753,571, 758,318, 750,537, 757,606,
  762,553, 767,366, 764,586, 769,340, 760,620, 765,317, 768,566, 763,353,
  776,576, 771,365, 778,609, 773,336, 775,552, 770,378, 779,640, 774,312,
  784,571, 789,360, 781,606, 786,375, 783,589, 788,336, 780,555, 787,624,
  792,571, 797,384, 794,604, 799,358, 790,638, 795,335, 798,584, 793,371,
  806,595, 801,384, 808,628, 803,355, 805,571, 800,397, 809,609, 804,331
];

function unpack(groups) {
  const points = [];
  for (const pairs of groups) {
    for (let i = 0; i < pairs.length; i += 2) {
      points.push({ x: 0.9 + pairs[i] / 10000, y: pairs[i + 1] * 10000 });
    }
  }
  return points;
}

const samplePoints = unpack([
  westTail, westCloud, bandEntry, upperFringe, eastFringe,
  coreWest, coreMid, coreEast, coreFill, coreDense, bandShoulders
]);
const trendPoints = trendReliability.map((r, i) => ({ x: r, y: trendCost[i] }));

const SANS = '"Liberation Sans", Arial, Helvetica, sans-serif';
const SERIF = '"Liberation Serif", "Times New Roman", serif';

// Grey box around the plotting area
const framePlugin = {
  id: 'frame',
  afterDraw(chart) {
    const { ctx, chartArea: { left, top, right, bottom } } = chart;
    ctx.save();
    ctx.strokeStyle = '#8f8f8f';
    ctx.lineWidth = 1.5;
    ctx.strokeRect(left, top, right - left, bottom - top);
    ctx.restore();
  }
};

// Legend entry for the fitted curve, with the equation typeset piece by piece
const fitLegendPlugin = {
  id: 'fitLegend',
  afterDraw(chart) {
    const { ctx, chartArea } = chart;
    const rowY = chartArea.top + 38;
    ctx.save();
    ctx.strokeStyle = '#000';
    ctx.lineWidth = 2;
    ctx.setLineDash([5, 3]);
    ctx.beginPath();
    ctx.moveTo(chartArea.left + 24, rowY);
    ctx.lineTo(chartArea.left + 66, rowY);
    ctx.stroke();
    ctx.setLineDash([]);

    const size = 27;
    const baseline = rowY + 9;
    let x = chartArea.left + 90;
    ctx.fillStyle = '#000';
    ctx.textBaseline = 'alphabetic';
    ctx.textAlign = 'left';
    for (const [text, style] of fitLabel) {
      let dy = 0, pad = 0;
      if (style === 'i') ctx.font = `italic ${size}px ${SERIF}`;
      else if (style === 's') { ctx.font = `${Math.round(size * 0.68)}px ${SERIF}`; dy = -size * 0.42; }
      else { ctx.font = `${size}px ${SERIF}`; if (style === 'o') pad = size * 0.14; }
      x += pad;
      ctx.fillText(text, x, baseline + dy);
      x += ctx.measureText(text).width + pad;
    }
    ctx.restore();
  }
};

new Chart(document.getElementById('chart'), {
  type: 'scatter',
  data: {
    datasets: [
      {
        label: 'Quadratic fit',
        data: trendPoints,
        showLine: true,
        borderColor: '#000000',
        borderWidth: 2,
        borderDash: [5, 3],
        pointRadius: 0,
        cubicInterpolationMode: 'monotone',
        order: 2
      },
      {
        label: 'Depth combinations',
        data: samplePoints,
        pointRadius: 1.6,
        pointBackgroundColor: '#111111',
        pointBorderWidth: 0,
        order: 1
      }
    ]
  },
  options: {
    responsive: false,
    animation: false,
    events: [],
    layout: { padding: { left: 0, right: 22, top: 0, bottom: 0 } },
    plugins: {
      legend: { display: false },
      tooltip: { enabled: false },
      title: {
        display: true,
        fullSize: false,
        text: 'Transit Reliability with Respect to Cost, 2,500 Depth Combinations',
        color: '#222222',
        font: { family: SANS, size: 21, weight: 'normal' },
        padding: { top: 6, bottom: 14 }
      }
    },
    scales: {
      x: {
        type: 'linear',
        min: 0.9,
        max: 1.0,
        grid: { display: false, drawTicks: false },
        border: { display: false },
        afterBuildTicks: (scale) => { scale.ticks = reliabilityTicks.map(v => ({ value: v })); },
        afterFit: (scale) => { scale.height = 53; },
        ticks: {
          callback: (v) => Number(v).toFixed(2),
          font: { family: SANS, size: 14 },
          color: '#262626',
          padding: 2,
          maxRotation: 0,
          autoSkip: false
        },
        title: {
          display: true,
          text: 'Transit Reliability',
          color: '#222222',
          font: { family: SANS, size: 23.5 },
          padding: { top: 0, bottom: 5 }
        }
      },
      y: {
        min: 0,
        max: 8000000,
        grid: { display: false, drawTicks: false },
        border: { display: false },
        afterBuildTicks: (scale) => { scale.ticks = costTicks.map(v => ({ value: v })); },
        afterFit: (scale) => { scale.width = 103; },
        ticks: {
          callback: (v) => String(v),
          font: { family: SANS, size: 14 },
          color: '#262626',
          padding: 4
        },
        title: {
          display: true,
          text: 'Annual Dredging Cost ($/yr)',
          color: '#222222',
          font: { family: SANS, size: 26.5 },
          padding: { top: 14, bottom: 0 }
        }
      }
    }
  },
  plugins: [framePlugin, fitLegendPlugin]
});
</script>
</body>
</html>
